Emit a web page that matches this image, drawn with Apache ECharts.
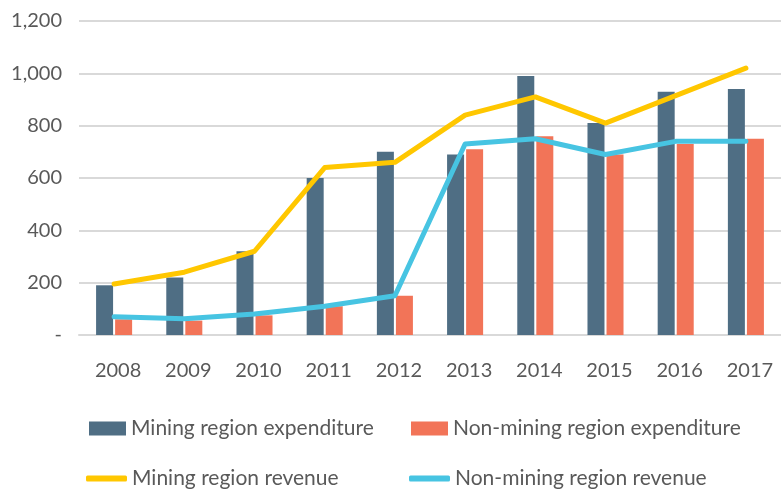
<!DOCTYPE html>
<html>
<head>
<meta charset="utf-8">
<script src="https://cdn.jsdelivr.net/npm/echarts@6/dist/echarts.min.js"></script>
<style>
  html, body { margin: 0; padding: 0; background: #fff; }
  #chart { width: 781px; height: 489px; }
</style>
</head>
<body>
<div id="chart"></div>
<script>
var years = ['2008','2009','2010','2011','2012','2013','2014','2015','2016','2017'];
var miningExp = [190, 220, 320, 600, 700, 690, 990, 810, 930, 940];
var nonMiningExp = [60, 55, 75, 110, 150, 710, 760, 690, 730, 750];
var miningRev = [195, 240, 320, 640, 660, 840, 910, 810, 915, 1020];
var nonMiningRev = [70, 62, 80, 110, 150, 730, 750, 690, 740, 740];

var chart = echarts.init(document.getElementById('chart'));
var textColor = '#595959';
var font = 'Lato';

function legend(name, left, top, w, h, icon) {
    return {
        data: [name],
        left: left,
        top: top,
        icon: icon,
        itemWidth: w,
        itemHeight: h,
        selectedMode: false,
        textStyle: { color: textColor, fontSize: 21, fontFamily: font }
    };
}

var option = {
    animation: false,
    textStyle: { fontFamily: font },
    grid: { left: 79, right: 0, top: 21, bottom: 154 },
    legend: [
        legend('Mining region expenditure', 84, 413, 37, 14, 'rect'),
        legend('Non-mining region expenditure', 406, 413, 37, 14, 'rect'),
        legend('Mining region revenue', 81, 463, 41, 6, 'roundRect'),
        legend('Non-mining region revenue', 404, 463, 41, 6, 'roundRect')
    ],
    xAxis: {
        type: 'category',
        data: years,
        axisLine: { show: true, lineStyle: { color: '#d9d9d9', width: 2 } },
        axisTick: { show: false },
        axisLabel: { color: textColor, fontSize: 20, fontFamily: font, margin: 26, padding: [0, 0, 0, 8] }
    },
    yAxis: {
        type: 'value',
        min: 0,
        max: 1200,
        interval: 200,
        axisLine: { show: false },
        axisTick: { show: false },
        splitLine: { lineStyle: { color: '#d9d9d9', width: 2 } },
        axisLabel: {
            color: textColor, fontSize: 20, fontFamily: font, margin: 17,
            formatter: function (v) {
                return v === 0 ? '-' : v.toLocaleString('en-US');
            }
        }
    },
    series: [
        {
            name: 'Mining region expenditure',
            type: 'bar',
            data: miningExp,
            barWidth: 17,
            barGap: '12%',
            itemStyle: { color: '#4f6e84' }
        },
        {
            name: 'Non-mining region expenditure',
            type: 'bar',
            data: nonMiningExp,
            barWidth: 17,
            itemStyle: { color: '#f27458' }
        },
        {
            name: 'Mining region revenue',
            type: 'line',
            data: miningRev,
            showSymbol: false,
            symbol: 'none',
            itemStyle: { color: '#ffc700' },
            lineStyle: { color: '#ffc700', width: 5, cap: 'round', join: 'round' }
        },
        {
            name: 'Non-mining region revenue',
            type: 'line',
            data: nonMiningRev,
            showSymbol: false,
            symbol: 'none',
            itemStyle: { color: '#47c4e2' },
            lineStyle: { color: '#47c4e2', width: 5, cap: 'round', join: 'round' }
        }
    ]
};

chart.setOption(option);
</script>
</body>
</html>
